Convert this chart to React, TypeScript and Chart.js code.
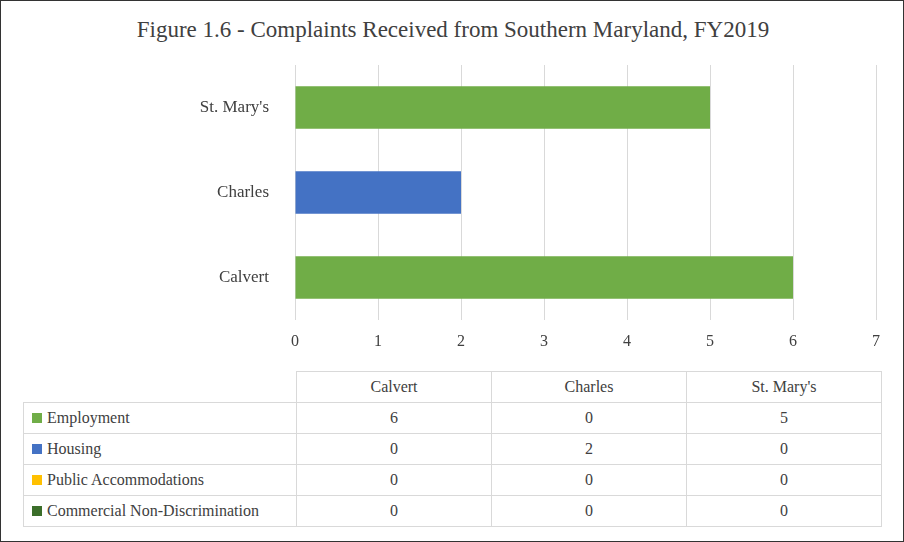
import React, { useEffect, useRef } from 'react';
import { Chart, registerables } from 'chart.js';

Chart.register(...registerables);

const counties = ['Calvert', 'Charles', "St. Mary's"];
const seriesNames = ['Employment', 'Housing', 'Public Accommodations', 'Commercial Non-Discrimination'];
const seriesColors = ['#70ad47', '#4472c4', '#ffc000', '#3b6e2a'];
const employment = [6, 0, 5];
const housing = [0, 2, 0];
const publicAccommodations = [0, 0, 0];
const commercial = [0, 0, 0];
const seriesValues = [employment, housing, publicAccommodations, commercial];

const FONT = '"Liberation Serif", "DejaVu Serif", serif';
const TEXT = '#404040';

const App: React.FC = () => {
  const canvasRef = useRef<HTMLCanvasElement>(null);

  useEffect(() => {
    if (!canvasRef.current) return;
    // chart draws top-to-bottom, so reverse to put Calvert at the bottom
    const labels = [...counties].reverse();
    const chart = new Chart(canvasRef.current, {
      type: 'bar',
      data: {
        labels,
        datasets: seriesNames.map((name, i) => ({
          label: name,
          data: [...seriesValues[i]].reverse(),
          backgroundColor: seriesColors[i],
          barPercentage: 1,
          categoryPercentage: 0.5,
        })),
      },
      options: {
        indexAxis: 'y',
        animation: false,
        responsive: false,
        maintainAspectRatio: false,
        layout: { padding: { top: 65, right: 28, left: 0, bottom: 0 } },
        plugins: { legend: { display: false }, tooltip: { enabled: false } },
        scales: {
          x: {
            stacked: true,
            min: 0,
            max: 7,
            ticks: { stepSize: 1, color: TEXT, font: { family: FONT, size: 16 }, padding: 12 },
            grid: { color: '#d9d9d9', drawTicks: false },
            border: { display: false },
            afterFit: (s: any) => { s.height = 40; },
          },
          y: {
            stacked: true,
            ticks: { color: TEXT, font: { family: FONT, size: 17 }, padding: 18 },
            grid: { display: false },
            border: { display: false },
            afterFit: (s: any) => { s.width = 295; },
          },
        },
      },
    });
    return () => chart.destroy();
  }, []);

  const cell: React.CSSProperties = {
    border: '1px solid #d9d9d9',
    height: 30,
    padding: 0,
    textAlign: 'center',
    fontSize: 16,
    color: TEXT,
  };

  return (
    <div style={{ position: 'fixed', left: 0, top: 0, width: 904, height: 542, boxSizing: 'border-box', border: '1px solid #333', background: '#fff', fontFamily: FONT }}>
      <div style={{ position: 'absolute', top: 16, left: 0, width: 904, textAlign: 'center', fontSize: 23, color: TEXT }}>
        Figure 1.6 - Complaints Received from Southern Maryland, FY2019
      </div>
      <canvas ref={canvasRef} width={904} height={360} style={{ position: 'absolute', left: -1, top: -1 }} />
      <table style={{ position: 'absolute', left: 22, top: 370, borderCollapse: 'collapse', tableLayout: 'fixed', width: 858 }}>
        <colgroup>
          <col style={{ width: 273 }} />
          <col style={{ width: 195 }} />
          <col style={{ width: 195 }} />
          <col style={{ width: 195 }} />
        </colgroup>
        <tbody>
          <tr>
            <td style={{ ...cell, border: 'none', borderRight: '1px solid #d9d9d9' }} />
            {counties.map((c) => <td key={c} style={cell}>{c}</td>)}
          </tr>
          {seriesNames.map((name, i) => (
            <tr key={name}>
              <td style={{ ...cell, textAlign: 'left', paddingLeft: 8, whiteSpace: 'nowrap' }}>
                <span style={{ display: 'inline-block', width: 10, height: 10, background: seriesColors[i], marginRight: 5 }} />
                {name}
              </td>
              {seriesValues[i].map((v, j) => <td key={j} style={cell}>{v}</td>)}
            </tr>
          ))}
        </tbody>
      </table>
    </div>
  );
};

export default App;
